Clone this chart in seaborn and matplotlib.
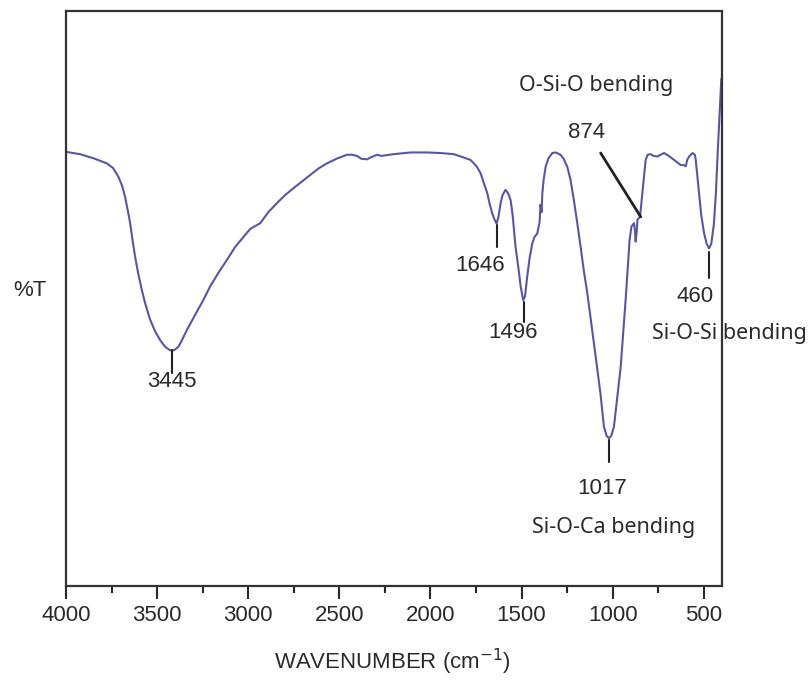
import matplotlib
matplotlib.use("Agg")
import matplotlib.pyplot as plt
from matplotlib.ticker import MultipleLocator
import seaborn as sns
import pandas as pd

# FTIR spectrum (wavenumber in cm-1, %T on a 0-100 frame scale)
wavenumber = [
    4000, 3923, 3850, 3776, 3742, 3713, 3692, 3676, 3659, 3648, 3635, 3621, 3604,
    3584, 3566, 3538, 3511, 3484, 3456, 3429, 3407, 3383, 3363, 3337, 3313, 3282,
    3247, 3209, 3165, 3117, 3071, 3026, 2989, 2962, 2934, 2890, 2842, 2797, 2751,
    2703, 2659, 2615, 2568, 2516, 2458, 2429, 2403, 2379, 2348, 2324, 2293, 2269,
    2202, 2110, 2018, 1945, 1872, 1824, 1780, 1747, 1725, 1709, 1688, 1676, 1661,
    1648, 1637, 1626, 1615, 1604, 1588, 1574, 1560, 1549, 1533, 1516, 1505, 1491,
    1481, 1469, 1456, 1441, 1429, 1414, 1401, 1396, 1390, 1386, 1379, 1368, 1352,
    1331, 1313, 1286, 1269, 1249, 1231, 1213, 1195, 1176, 1159, 1139, 1121, 1103,
    1085, 1066, 1048, 1033, 1020, 1008, 993, 975, 956, 942, 929, 918, 907, 897,
    883, 878, 874, 868, 864, 850, 837, 827, 819, 808, 791, 775, 755, 736, 718,
    692, 663, 643, 626, 610, 599, 591, 580, 562, 549, 544, 536, 526, 514, 498,
    484, 471, 459, 445, 434, 423, 412, 404, 398,
]
transmittance = [
    75.5, 75.1, 74.4, 73.5, 72.7, 71.2, 69.6, 67.7, 65.0, 63.1, 60.2, 57.3, 54.4,
    51.5, 49.2, 46.3, 44.3, 42.8, 41.6, 41.0, 41.0, 41.6, 42.8, 44.5, 45.9, 47.7,
    49.7, 52.1, 54.4, 56.7, 59.0, 60.7, 62.1, 62.6, 63.1, 65.0, 66.6, 68.0, 69.2,
    70.4, 71.5, 72.6, 73.5, 74.3, 75.0, 75.0, 74.8, 74.3, 74.2, 74.6, 75.0, 74.8,
    75.1, 75.4, 75.4, 75.3, 75.1, 74.6, 74.1, 73.0, 71.8, 70.3, 68.3, 66.6, 64.8,
    63.7, 63.0, 64.3, 66.6, 68.0, 68.9, 68.3, 67.1, 64.5, 59.0, 55.0, 52.1, 49.7,
    50.4, 53.8, 57.0, 59.6, 60.7, 61.3, 63.3, 66.3, 65.0, 68.3, 70.6, 72.9, 74.4,
    75.3, 75.4, 75.0, 74.3, 72.9, 70.6, 67.1, 63.3, 59.0, 55.0, 50.9, 46.6, 42.2,
    37.9, 33.2, 27.7, 26.1, 25.7, 26.1, 27.7, 32.7, 38.1, 44.0, 49.7, 55.0, 60.2,
    62.5, 63.1, 61.9, 59.9, 61.6, 63.7, 64.2, 68.3, 71.5, 74.1, 75.0, 75.1, 74.8,
    74.7, 75.0, 75.3, 74.8, 74.1, 73.6, 73.2, 73.2, 73.0, 74.1, 74.7, 75.3, 75.0,
    74.1, 71.5, 68.3, 64.5, 61.3, 59.5, 58.7, 59.5, 62.8, 68.0, 75.8, 82.8, 88.0,
    88.9,
]

# peak labels: text, x, y, font group
label_text = ["3445", "1646", "1496", "1017", "874", "460",
              "Si-O-Ca bending", "O-Si-O bending", "Si-O-Si bending"]
label_x = [3418, 1725, 1547, 1060, 1143, 547, 994, 1088, 357]
label_y = [35.6, 55.8, 44.0, 17.0, 78.8, 50.3, 10.1, 87.1, 44.0]
label_num = [True, True, True, True, True, True, False, False, False]

# short marker lines below the peaks: x, y start, y end
marker_x = [3419, 1637, 1489, 1018, 472]
marker_y0 = [41.0, 62.8, 49.4, 25.4, 58.1]
marker_y1 = [37.0, 59.0, 45.9, 21.6, 53.6]
# leader line for 874
leader_x = [1066, 846]
leader_y = [75.3, 64.2]

df = pd.DataFrame({"wavenumber": wavenumber, "T": transmittance})

sns.set_style("white")
plt.rcParams["font.family"] = ["Liberation Sans", "DejaVu Sans"]

fig = plt.figure(figsize=(8.1, 6.83), dpi=100)
ax = fig.add_axes([66 / 810, 1 - 586 / 683, (722 - 66) / 810, (586 - 11) / 683])

sns.lineplot(data=df, x="wavenumber", y="T", sort=False, estimator=None,
             color="#5855a8", linewidth=1.5, ax=ax)

for mx, a, b in zip(marker_x, marker_y0, marker_y1):
    ax.plot([mx, mx], [a, b], color="#222222", linewidth=1.5)
ax.plot(leader_x, leader_y, color="#222222", linewidth=2)

for t, lx, ly, num in zip(label_text, label_x, label_y, label_num):
    if num:
        ax.text(lx, ly, t, ha="center", va="center", fontsize=16,
                color="#2a2a2a", family=["Liberation Sans", "DejaVu Sans"])
    else:
        ax.text(lx, ly, t, ha="center", va="center", fontsize=15.5,
                color="#2a2a2a", family=["Noto Sans", "DejaVu Sans"], clip_on=False)

ax.set_xlim(4000, 400)
ax.set_ylim(0, 100)
ax.xaxis.set_major_locator(MultipleLocator(500))
ax.xaxis.set_minor_locator(MultipleLocator(250))
ax.set_xticks([4000, 3500, 3000, 2500, 2000, 1500, 1000, 500])
ax.set_yticks([])
ax.tick_params(axis="x", which="major", direction="out", length=9, width=1.5,
               pad=5, labelsize=16, colors="#2a2a2a", bottom=True)
ax.tick_params(axis="x", which="minor", direction="out", length=5, width=1.5,
               bottom=True)
for s in ax.spines.values():
    s.set_color("#333333")
    s.set_linewidth(1.6)

ax.set_xlabel("")
ax.set_ylabel("")
fig.text(392 / 810, 1 - 662 / 683, "WAVENUMBER (cm$^{-1}$)", ha="center", va="center",
         fontsize=16, color="#2a2a2a")
fig.text(30 / 810, 1 - 291 / 683, "%T", ha="center", va="center",
         fontsize=16, color="#2a2a2a")

fig.savefig("out.png", dpi=100)
